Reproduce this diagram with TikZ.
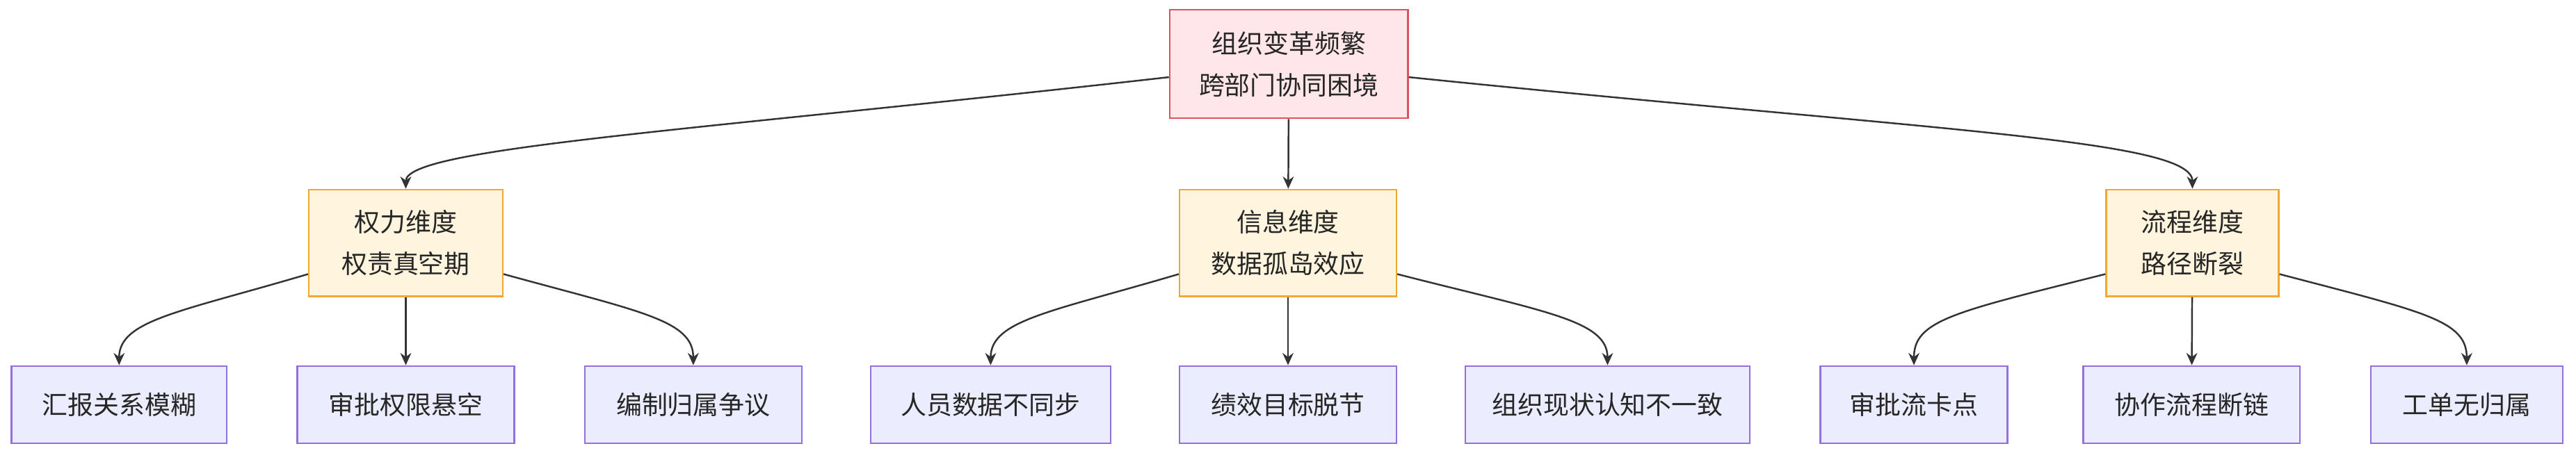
\documentclass[tikz,border=0pt]{standalone}
\usepackage{fontspec}
\setmainfont{Noto Sans CJK SC}
\usetikzlibrary{arrows.meta}
\definecolor{rootfill}{HTML}{FFE6EA}
\definecolor{rootline}{HTML}{E0505F}
\definecolor{dimfill}{HTML}{FFF4DD}
\definecolor{dimline}{HTML}{F0A830}
\definecolor{leaffill}{HTML}{ECECFF}
\definecolor{leafline}{HTML}{9370DB}
\tikzset{
  box/.style={draw, line width=0.7pt, align=center, font=\fontsize{10.5}{17}\selectfont,
    inner sep=0pt, text=black!85},
  root/.style={box, fill=rootfill, draw=rootline, minimum width=145*0.023622cm, minimum height=66*0.023622cm},
  dim/.style={box, fill=dimfill, draw=dimline, minimum height=65*0.023622cm},
  leaf/.style={box, fill=leaffill, draw=leafline, minimum height=47*0.023622cm},
  arr/.style={draw=black!80, line width=0.7pt, -{Stealth[length=5pt,width=4.5pt]}}
}
\begin{document}
\begin{tikzpicture}[x=0.023622cm, y=-0.023622cm]
  \useasboundingbox (0,0) rectangle (1568,276);
  % root
  \node[root] (org) at (784.5,39) {组织变革频繁\\跨部门协同困境};
  % dimensions
  \node[dim, minimum width=118*0.023622cm] (power) at (247,148) {权力维度\\权责真空期};
  \node[dim, minimum width=132*0.023622cm] (info) at (784,148) {信息维度\\数据孤岛效应};
  \node[dim, minimum width=105*0.023622cm] (flow) at (1334.5,148) {流程维度\\路径断裂};
  % leaves
  \node[leaf, minimum width=131*0.023622cm] (report) at (72.5,246.5) {汇报关系模糊};
  \node[leaf, minimum width=132*0.023622cm] (approve) at (247,246.5) {审批权限悬空};
  \node[leaf, minimum width=132*0.023622cm] (staff) at (422,246.5) {编制归属争议};
  \node[leaf, minimum width=146*0.023622cm] (hr) at (603,246.5) {人员数据不同步};
  \node[leaf, minimum width=132*0.023622cm] (kpi) at (784,246.5) {绩效目标脱节};
  \node[leaf, minimum width=173*0.023622cm] (cog) at (978.5,246.5) {组织现状认知不一致};
  \node[leaf, minimum width=114*0.023622cm] (block) at (1165,246.5) {审批流卡点};
  \node[leaf, minimum width=132*0.023622cm] (chain) at (1334,246.5) {协作流程断链};
  \node[leaf, minimum width=117*0.023622cm] (ticket) at (1501.5,246.5) {工单无归属};
  % edges
  \draw[arr] (org.west |- 0,47) .. controls (420,80) and (247,90) .. (power.north);
  \draw[arr] (org) -- (info);
  \draw[arr] (org.east |- 0,47) .. controls (1180,80) and (1334.5,85) .. (flow.north);
  \draw[arr] (power.west |- 0,167) .. controls (110,190) and (72.5,195) .. (report.north);
  \draw[arr] (power) -- (approve);
  \draw[arr] (power.east |- 0,167) .. controls (390,190) and (422,195) .. (staff.north);
  \draw[arr] (info.west |- 0,167) .. controls (640,190) and (603,195) .. (hr.north);
  \draw[arr] (info) -- (kpi);
  \draw[arr] (info.east |- 0,167) .. controls (940,190) and (978.5,195) .. (cog.north);
  \draw[arr] (flow.west |- 0,167) .. controls (1190,190) and (1165,195) .. (block.north);
  \draw[arr] (flow) -- (chain);
  \draw[arr] (flow.east |- 0,167) .. controls (1475,190) and (1501.5,195) .. (ticket.north);
\end{tikzpicture}
\end{document}
